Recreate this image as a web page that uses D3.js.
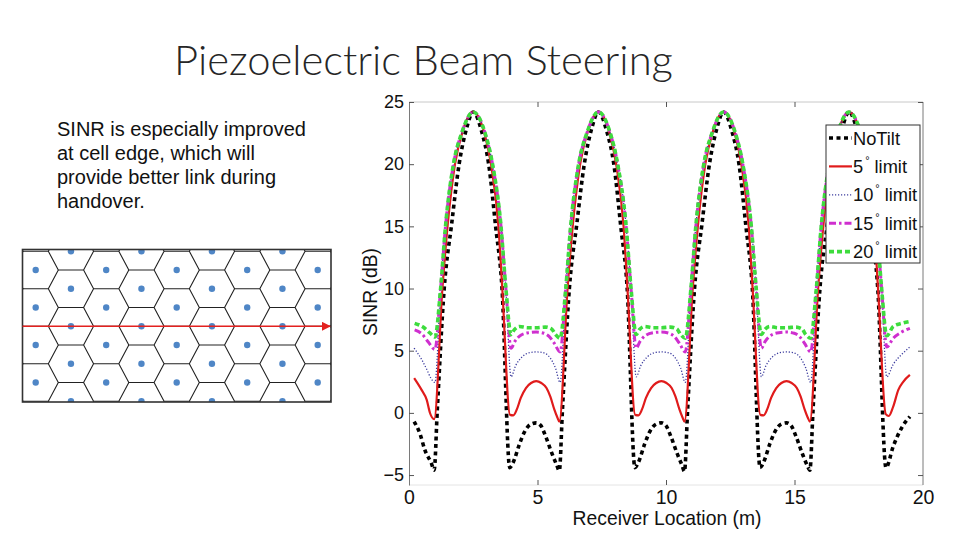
<!DOCTYPE html>
<html><head><meta charset="utf-8">
<script src="https://cdn.jsdelivr.net/npm/d3@7"></script>
<style>body{margin:0;background:#fff} svg{display:block}</style>
</head><body><svg id="c" width="960" height="540"></svg>
<script>
// ---------- data ----------
const titleText = "Piezoelectric Beam Steering";
const noteLines = ["SINR is especially improved", "at cell edge, which will", "provide better link during", "handover."];
const xTicks = [0, 5, 10, 15, 20];
const yTicks = [-5, 0, 5, 10, 15, 20, 25];
const xLabel = "Receiver Location (m)";
const yLabel = "SINR (dB)";
const legendLabels = ["NoTilt", "5", "10", "15", "20"];

const noTilt = [[0.2,-0.7],[0.43,-1.7],[0.62,-3.0],[0.86,-4.0],
 [0.98,-4.6],[1.10,0.2],[1.37,10],[1.66,15.2],[1.95,20],[2.23,22.8],[2.5,24.2],[2.83,22.6],[3.10,20],[3.37,15],[3.62,10],[3.92,-4.4],
 [4.05,-4.0],[4.30,-2.5],[4.50,-1.5],[4.75,-0.9],[4.95,-0.8],[5.12,-1.0],[5.32,-1.9],[5.55,-3.2],[5.75,-4.2],
 [5.85,-4.65],[5.97,0.2],[6.24,10],[6.53,15.2],[6.82,20],[7.10,22.8],[7.37,24.2],[7.70,22.6],[7.97,20],[8.24,15],[8.49,10],[8.79,-4.4],
 [8.92,-4.0],[9.17,-2.5],[9.37,-1.5],[9.62,-0.9],[9.82,-0.8],[9.99,-1.0],[10.19,-1.9],[10.42,-3.2],[10.62,-4.2],
 [10.72,-4.7],[10.84,0.2],[11.11,10],[11.40,15.2],[11.69,20],[11.97,22.8],[12.24,24.2],[12.57,22.6],[12.84,20],[13.11,15],[13.36,10],[13.66,-4.4],
 [13.79,-4.0],[14.04,-2.5],[14.24,-1.5],[14.49,-0.9],[14.69,-0.8],[14.86,-1.0],[15.06,-1.9],[15.29,-3.2],[15.49,-4.2],
 [15.60,-4.6],[15.72,0.2],[15.99,10],[16.28,15.2],[16.57,20],[16.85,22.8],[17.12,24.2],[17.45,22.6],[17.72,20],[17.99,15],[18.24,10],[18.56,-4.4],
 [18.84,-2.7],[19.17,-1.2],[19.49,-0.3]];

const limit5 = [[0.2,2.8],[0.49,1.85],[0.69,1.05],[0.82,-0.03],
 [0.98,-0.5],[1.30,10],[1.50,15],[1.79,20],[2.08,22.6],[2.5,24.2],[2.92,22.6],[3.19,20],[3.48,15],[3.63,10],[3.93,-0.16],
 [4.06,-0.2],[4.20,0.3],[4.35,1.2],[4.55,2.0],[4.75,2.4],[4.95,2.55],[5.15,2.4],[5.35,2.0],[5.50,1.3],[5.65,0.3],[5.77,-0.35],
 [5.85,-0.7],[6.17,10],[6.37,15],[6.66,20],[6.95,22.6],[7.37,24.2],[7.79,22.6],[8.06,20],[8.35,15],[8.50,10],[8.80,-0.16],
 [8.93,-0.2],[9.07,0.3],[9.22,1.2],[9.42,2.0],[9.62,2.4],[9.82,2.55],[10.02,2.4],[10.22,2.0],[10.37,1.3],[10.52,0.3],[10.64,-0.35],
 [10.72,-0.7],[11.04,10],[11.24,15],[11.53,20],[11.82,22.6],[12.24,24.2],[12.66,22.6],[12.93,20],[13.22,15],[13.37,10],[13.67,-0.16],
 [13.80,-0.2],[13.94,0.3],[14.09,1.2],[14.29,2.0],[14.49,2.4],[14.69,2.55],[14.89,2.4],[15.09,2.0],[15.24,1.3],[15.39,0.3],[15.51,-0.35],
 [15.60,-0.7],[15.92,10],[16.12,15],[16.41,20],[16.70,22.6],[17.12,24.2],[17.54,22.6],[17.81,20],[18.10,15],[18.25,10],[18.55,-0.1],
 [18.67,-0.25],[18.84,0.5],[19.04,1.85],[19.23,2.5],[19.49,3.05]];

const limit10 = [[0.2,5.2],[0.49,4.3],[0.69,3.5],[0.85,2.8],
 [1.01,2.45],[1.23,10],[1.42,15],[1.73,20],[2.05,22.5],[2.5,24.2],[2.96,22.5],[3.25,20],[3.58,15],[3.77,10],[3.97,2.9],
 [4.15,3.8],[4.40,4.5],[4.70,4.85],[4.95,4.9],[5.20,4.85],[5.50,4.4],[5.70,3.6],
 [5.88,2.45],[6.10,10],[6.29,15],[6.60,20],[6.92,22.5],[7.37,24.2],[7.83,22.5],[8.12,20],[8.45,15],[8.64,10],[8.84,2.9],
 [9.02,3.8],[9.27,4.5],[9.57,4.85],[9.82,4.9],[10.07,4.85],[10.37,4.4],[10.57,3.6],
 [10.75,2.45],[10.97,10],[11.16,15],[11.47,20],[11.79,22.5],[12.24,24.2],[12.70,22.5],[12.99,20],[13.32,15],[13.51,10],[13.71,2.9],
 [13.89,3.8],[14.14,4.5],[14.44,4.85],[14.69,4.9],[14.94,4.85],[15.24,4.4],[15.44,3.6],
 [15.63,2.45],[15.85,10],[16.04,15],[16.35,20],[16.67,22.5],[17.12,24.2],[17.58,22.5],[17.87,20],[18.20,15],[18.39,10],[18.59,2.9],
 [18.84,3.9],[19.17,4.7],[19.49,5.3]];

const limit15 = [[0.22,6.67],[0.5,6.35],[0.75,5.7],
 [1.01,5.1],[1.23,10],[1.42,15],[1.73,20],[2.05,22.5],[2.5,24.2],[2.96,22.5],[3.25,20],[3.58,15],[3.77,10],[3.97,5.2],
 [4.12,5.75],[4.35,6.25],[4.65,6.45],[4.95,6.5],[5.25,6.4],[5.45,6.15],[5.65,5.6],
 [5.88,4.9],[6.10,10],[6.29,15],[6.60,20],[6.92,22.5],[7.37,24.2],[7.83,22.5],[8.12,20],[8.45,15],[8.64,10],[8.84,5.2],
 [8.99,5.75],[9.22,6.25],[9.52,6.45],[9.82,6.5],[10.12,6.4],[10.32,6.15],[10.52,5.6],
 [10.75,4.9],[10.97,10],[11.16,15],[11.47,20],[11.79,22.5],[12.24,24.2],[12.70,22.5],[12.99,20],[13.32,15],[13.51,10],[13.71,5.2],
 [13.86,5.75],[14.09,6.25],[14.39,6.45],[14.69,6.5],[14.99,6.4],[15.19,6.15],[15.39,5.6],
 [15.63,4.9],[15.85,10],[16.04,15],[16.35,20],[16.67,22.5],[17.12,24.2],[17.58,22.5],[17.87,20],[18.20,15],[18.39,10],[18.59,5.3],
 [18.84,6.0],[19.17,6.5],[19.49,6.8]];

const limit20 = [[0.22,7.2],[0.55,6.9],[0.8,6.45],
 [1.01,6.1],[1.23,10],[1.42,15],[1.73,20],[2.05,22.5],[2.5,24.2],[2.96,22.5],[3.25,20],[3.58,15],[3.77,10],[3.97,6.3],
 [4.10,6.7],[4.30,6.95],[4.60,6.85],[4.95,6.85],[5.30,6.9],[5.55,6.75],[5.70,6.3],
 [5.88,6.0],[6.10,10],[6.29,15],[6.60,20],[6.92,22.5],[7.37,24.2],[7.83,22.5],[8.12,20],[8.45,15],[8.64,10],[8.84,6.3],
 [8.97,6.7],[9.17,6.95],[9.47,6.85],[9.82,6.85],[10.17,6.9],[10.42,6.75],[10.57,6.3],
 [10.75,6.0],[10.97,10],[11.16,15],[11.47,20],[11.79,22.5],[12.24,24.2],[12.70,22.5],[12.99,20],[13.32,15],[13.51,10],[13.71,6.3],
 [13.84,6.7],[14.04,6.95],[14.34,6.85],[14.69,6.85],[15.04,6.9],[15.29,6.75],[15.44,6.3],
 [15.63,6.0],[15.85,10],[16.04,15],[16.35,20],[16.67,22.5],[17.12,24.2],[17.58,22.5],[17.87,20],[18.20,15],[18.39,10],[18.59,6.2],
 [18.84,6.95],[19.17,7.2],[19.49,7.35]];

// hexagonal cell layout (grid indices)
const hexColumns = [-1, 0, 1, 2, 3, 4, 5, 6, 7, 8, 9];
const hexRows = [-1, 0, 1, 2, 3, 4];
const arrowRow = 1.5;

// ---------- drawing ----------
const svg = d3.select("#c");
const font = "'Liberation Sans', Arial, sans-serif";

function fitSize(str, target, family, weight) {
  const t = svg.append("text").attr("font-family", family).attr("font-weight", weight || 400)
    .attr("font-size", 100).text(str);
  const w = t.node().getComputedTextLength();
  t.remove();
  return 100 * target / w;
}

// title
const titleFont = "Lato, 'Open Sans', sans-serif";
svg.append("text").text(titleText)
  .attr("x", 423.5).attr("y", 75).attr("text-anchor", "middle")
  .attr("font-family", titleFont).attr("font-weight", 300)
  .attr("font-size", fitSize(titleText, 499, titleFont, 300)).attr("fill", "#262626");

// note paragraph
const noteSize = fitSize(noteLines[0], 249, font);
svg.append("g").selectAll("text").data(noteLines).join("text")
  .attr("x", 57).attr("y", (d, i) => 136 + i * 24)
  .attr("font-family", font).attr("font-size", noteSize).attr("fill", "#111")
  .text(d => d);

// hex grid picture
const hb = {x0: 22.5, y0: 249.5, x1: 331, y1: 402};
const hx = d3.scaleLinear().domain([0, 8]).range([35.7, 317.7]);
const hy = d3.scaleLinear().domain([0, 3]).range([270, 382.5]);
const sites = [];
hexColumns.forEach(c => hexRows.forEach(r => {
  const odd = Math.abs(c % 2) === 1;
  sites.push([hx(c), hy(odd ? r - 0.5 : r)]);
}));
const vor = d3.Delaunay.from(sites).voronoi([hb.x0, hb.y0, hb.x1, hb.y1]);
svg.append("defs").html(`
  <clipPath id="hexclip"><rect x="${hb.x0}" y="${hb.y0}" width="${hb.x1-hb.x0}" height="${hb.y1-hb.y0}"/></clipPath>
  <clipPath id="plotclip"><rect x="409" y="100" width="515" height="386"/></clipPath>
  <marker id="ah" viewBox="0 0 10 10" refX="9" refY="5" markerWidth="9" markerHeight="9" markerUnits="userSpaceOnUse" orient="auto">
    <path d="M0,0 L10,5 L0,10 z" fill="#e3211f"/></marker>`);
const hg = svg.append("g").attr("clip-path", "url(#hexclip)");
hg.append("rect").attr("x", hb.x0).attr("y", hb.y0).attr("width", hb.x1 - hb.x0).attr("height", hb.y1 - hb.y0).attr("fill", "#fff");
hg.append("path").attr("d", vor.render()).attr("fill", "none").attr("stroke", "#222").attr("stroke-width", 1.1);
hg.selectAll("circle").data(sites).join("circle")
  .attr("cx", d => d[0]).attr("cy", d => d[1]).attr("r", 3.2).attr("fill", "#4f86c6");
svg.append("rect").attr("x", hb.x0).attr("y", hb.y0).attr("width", hb.x1 - hb.x0).attr("height", hb.y1 - hb.y0)
  .attr("fill", "none").attr("stroke", "#333").attr("stroke-width", 1.6);
svg.append("line").attr("x1", hb.x0).attr("x2", hb.x1 - 1).attr("y1", hy(arrowRow)).attr("y2", hy(arrowRow))
  .attr("stroke", "#e3211f").attr("stroke-width", 1.6).attr("marker-end", "url(#ah)");

// chart
const x = d3.scaleLinear().domain([0, 20]).range([409, 923]);
const y = d3.scaleLinear().domain([-5.8, 25]).range([485, 102]);

// box
const axisGray = "#7a7a7a";
svg.append("line").attr("x1", x(0)).attr("x2", x(20)).attr("y1", y(25)).attr("y2", y(25)).attr("stroke", "#c8c8c8");
svg.append("line").attr("x1", x(0)).attr("x2", x(20)).attr("y1", y(-5.8)).attr("y2", y(-5.8)).attr("stroke", "#e4e4e4");
svg.append("line").attr("x1", x(20)).attr("x2", x(20)).attr("y1", y(25)).attr("y2", y(-5.8)).attr("stroke", axisGray);

const ax = svg.append("g").attr("transform", `translate(${x(0)},0)`)
  .call(d3.axisLeft(y).tickValues(yTicks).tickSize(-5).tickSizeOuter(0).tickPadding(5));
const bx = svg.append("g").attr("transform", `translate(0,${y(-5.8)})`)
  .call(d3.axisBottom(x).tickValues(xTicks).tickSize(-5).tickSizeOuter(0).tickPadding(0));
svg.append("g").attr("transform", `translate(0,${y(25)})`)
  .call(d3.axisTop(x).tickValues(xTicks.slice(1, 4)).tickSize(-5).tickSizeOuter(0).tickFormat(""))
  .select(".domain").remove();
svg.append("g").attr("transform", `translate(${x(20)},0)`)
  .call(d3.axisRight(y).tickValues(yTicks).tickSize(-5).tickSizeOuter(0).tickFormat(""))
  .select(".domain").remove();
ax.select(".domain").attr("stroke", axisGray);
bx.select(".domain").remove();
svg.selectAll(".tick line").attr("stroke", "#555");
bx.selectAll(".tick").filter(d => d === 0 || d === 20).select("line").remove();
ax.selectAll("text").attr("font-family", font).attr("font-size", 18).attr("fill", "#111");
bx.selectAll("text").attr("font-family", font).attr("font-size", 19.5).attr("fill", "#111")
  .attr("dy", null).attr("y", 19);

svg.append("text").text(xLabel).attr("x", 667).attr("y", 525).attr("text-anchor", "middle")
  .attr("font-family", font).attr("font-size", fitSize(xLabel, 189, font)).attr("fill", "#111");
svg.append("text").text(yLabel).attr("transform", "translate(377,292) rotate(-90)").attr("text-anchor", "middle")
  .attr("font-family", font).attr("font-size", fitSize(yLabel, 88, font)).attr("fill", "#111");

// series
const styles = [
  {data: noTilt, color: "#000000", width: 3.6, dash: "4,3.5"},
  {data: limit5, color: "#e01b1b", width: 2.2, dash: null},
  {data: limit10, color: "#3c3c9e", width: 1.3, dash: "1.2,1.8"},
  {data: limit15, color: "#cf2fcf", width: 3, dash: "7,3,2.5,3"},
  {data: limit20, color: "#3ddc3d", width: 3.6, dash: "5,3"}
];
const line = d3.line().x(d => x(d[0])).y(d => y(d[1])).curve(d3.curveMonotoneX);
const pg = svg.append("g").attr("clip-path", "url(#plotclip)");
styles.forEach(s => {
  pg.append("path").attr("d", line(s.data)).attr("fill", "none")
    .attr("stroke", s.color).attr("stroke-width", s.width)
    .attr("stroke-dasharray", s.dash).attr("stroke-linejoin", "round");
});

// legend
const legSize = fitSize(legendLabels[0], 47, font);
const lg = svg.append("g");
lg.append("rect").attr("x", 826).attr("y", 125).attr("width", 94).attr("height", 138)
  .attr("fill", "#fff").attr("stroke", "#333").attr("stroke-width", 1);
styles.forEach((s, i) => {
  const cy = 138 + i * 28.4;
  lg.append("line").attr("x1", 829).attr("x2", 852).attr("y1", cy).attr("y2", cy)
    .attr("stroke", s.color).attr("stroke-width", s.width).attr("stroke-dasharray", s.dash);
  const t = lg.append("text").attr("x", 853).attr("y", cy + 6.5)
    .attr("font-family", font).attr("font-size", legSize).attr("fill", "#111");
  if (i === 0) { t.text(legendLabels[i]); }
  else {
    t.append("tspan").text(legendLabels[i]);
    t.append("tspan").text("°").attr("font-size", legSize * 0.6).attr("dx", 2).attr("dy", -9);
    t.append("tspan").text("limit").attr("dx", 5).attr("dy", 9);
  }
});
</script></body></html>
